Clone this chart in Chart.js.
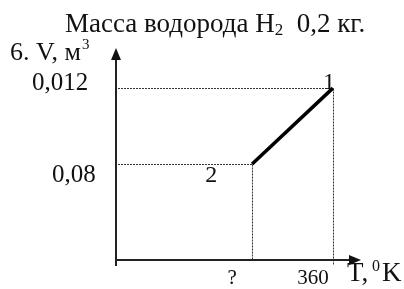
<!DOCTYPE html>
<html>
<head>
<meta charset="utf-8">
<script src="https://cdn.jsdelivr.net/npm/chart.js@4.4.1/dist/chart.umd.min.js"></script>
<style>
  html, body { margin: 0; padding: 0; background: #fff; }
  #wrap { width: 404px; height: 289px; }
</style>
</head>
<body>
<div id="wrap"><canvas id="chart" width="404" height="289"></canvas></div>
<script>
// данные графика
const pointNames = ['2', '1'];
const tValues = [226, 360];          // T, K (положение точки 2)
const vValues = [0.0067, 0.012];     // V, м3 (положение по рисунку)
const xTickLabels = ['?', '360'];
const yTickLabels = ['0,08', '0,012'];

const titleText = 'Масса водорода H';
const titleSub = '2';
const titleTail = '  0,2 кг.';

// оформление
const serif = '"Liberation Serif", "Times New Roman", serif';
const yLabelOffsets = [[52, 18], [32, 2]];     // [левый край x, сдвиг базовой линии]
const pointLabelOffsets = [[-41, 18], [-4, 1]];

const font = (size) => `${size}px ${serif}`;

const drawDecor = {
    id: 'drawDecor',
    beforeDraw(chart) {
        const ctx = chart.ctx;
        ctx.save();
        ctx.fillStyle = '#fff';
        ctx.fillRect(0, 0, chart.width, chart.height);
        ctx.restore();
    },
    beforeDatasetsDraw(chart) {
        const { ctx, chartArea, scales } = chart;
        const x0 = chartArea.left;
        const y0 = chartArea.bottom;
        ctx.save();

        // пунктирные линии к точкам
        ctx.strokeStyle = '#333';
        ctx.lineWidth = 1;
        ctx.setLineDash([2, 1]);
        tValues.forEach((t, i) => {
            const px = Math.round(scales.x.getPixelForValue(t)) + 0.5;
            const py = Math.round(scales.y.getPixelForValue(vValues[i])) + 0.5;
            ctx.beginPath();
            ctx.moveTo(x0 + 2, py);
            ctx.lineTo(px, py);
            ctx.moveTo(px, py);
            ctx.lineTo(px, i === 1 ? y0 + 5 : y0);
            ctx.stroke();
        });
        ctx.setLineDash([]);

        // оси со стрелками
        ctx.strokeStyle = '#222';
        ctx.fillStyle = '#111';
        ctx.lineWidth = 2;
        ctx.beginPath();
        ctx.moveTo(x0, y0 + 6);
        ctx.lineTo(x0, chartArea.top + 10);
        ctx.moveTo(x0 - 1, y0);
        ctx.lineTo(chartArea.right - 10, y0);
        ctx.stroke();

        ctx.beginPath();
        ctx.moveTo(x0, chartArea.top);
        ctx.lineTo(x0 - 5, chartArea.top + 12);
        ctx.lineTo(x0 + 5, chartArea.top + 12);
        ctx.closePath();
        ctx.fill();

        ctx.beginPath();
        ctx.moveTo(chartArea.right + 1, y0);
        ctx.lineTo(chartArea.right - 11, y0 - 5);
        ctx.lineTo(chartArea.right - 11, y0 + 5);
        ctx.closePath();
        ctx.fill();

        ctx.restore();
    },
    afterDatasetsDraw(chart) {
        const { ctx, chartArea, scales } = chart;
        const y0 = chartArea.bottom;
        ctx.save();
        ctx.fillStyle = '#111';
        ctx.textBaseline = 'alphabetic';

        // заголовок
        ctx.textAlign = 'left';
        ctx.font = font(27);
        let x = 65;
        ctx.fillText(titleText, x, 32);
        x += ctx.measureText(titleText).width;
        ctx.font = font(17);
        ctx.fillText(titleSub, x, 35);
        x += ctx.measureText(titleSub).width;
        ctx.font = font(27);
        ctx.fillText(titleTail, x, 32);

        // подпись оси V
        ctx.font = font(26);
        const vTitle = '6. V, м';
        ctx.fillText(vTitle, 10, 60);
        const vEnd = 10 + ctx.measureText(vTitle).width;
        ctx.font = font(15);
        ctx.fillText('3', vEnd + 1, 49);

        // подписи оси V
        ctx.font = font(25);
        yTickLabels.forEach((lab, i) => {
            const py = scales.y.getPixelForValue(vValues[i]);
            ctx.fillText(lab, yLabelOffsets[i][0], py + yLabelOffsets[i][1]);
        });

        // подписи оси T
        ctx.font = font(21);
        ctx.textAlign = 'center';
        xTickLabels.forEach((lab, i) => {
            const px = scales.x.getPixelForValue(tValues[i]);
            ctx.fillText(lab, px - 20, y0 + 24);
        });

        // название оси T
        ctx.textAlign = 'left';
        ctx.font = font(27);
        ctx.fillText('T,', 347, y0 + 21);
        ctx.font = font(16);
        ctx.fillText('0', 372, y0 + 11);
        ctx.font = font(27);
        ctx.fillText('K', 382, y0 + 21);

        // номера точек
        ctx.font = font(24);
        pointNames.forEach((name, i) => {
            const px = scales.x.getPixelForValue(tValues[i]);
            const py = scales.y.getPixelForValue(vValues[i]);
            ctx.textAlign = 'center';
            ctx.fillText(name, px + pointLabelOffsets[i][0], py + pointLabelOffsets[i][1]);
        });

        ctx.restore();
    }
};

const ctx = document.getElementById('chart').getContext('2d');
new Chart(ctx, {
    type: 'scatter',
    data: {
        datasets: [{
            data: tValues.map((t, i) => ({ x: t, y: vValues[i] })),
            showLine: true,
            borderColor: '#000',
            borderWidth: 3.5,
            pointRadius: 0,
            borderCapStyle: 'butt'
        }]
    },
    options: {
        responsive: false,
        animation: false,
        devicePixelRatio: 1,
        layout: {
            padding: { left: 116, right: 44, top: 48, bottom: 29 }
        },
        plugins: {
            legend: { display: false },
            tooltip: { enabled: false },
            title: { display: false }
        },
        scales: {
            x: { type: 'linear', display: false, min: 0, max: 405 },
            y: { type: 'linear', display: false, min: 0, max: 0.0148 }
        }
    },
    plugins: [drawDecor]
});
</script>
</body>
</html>
